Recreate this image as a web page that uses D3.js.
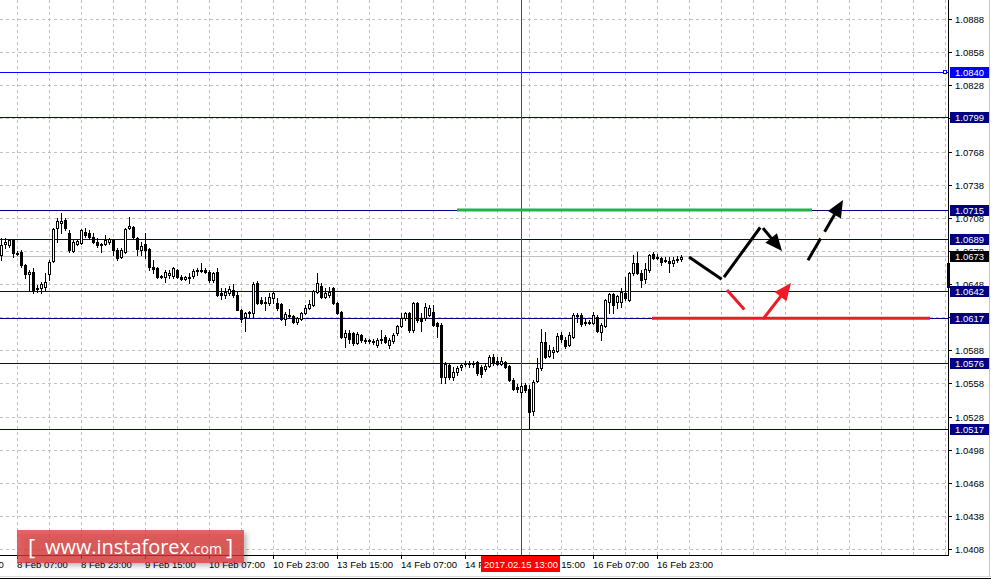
<!DOCTYPE html>
<html><head><meta charset="utf-8">
<script src="https://cdn.jsdelivr.net/npm/d3@7"></script>
<style>html,body{margin:0;padding:0;background:#fff;overflow:hidden}svg{display:block}</style>
</head><body><svg id="c" width="991" height="581"></svg>
<script>
// ---------- DATA ----------
const opens = [
1.06742,1.06841,1.06832,1.06878,1.06760,1.06769,1.06651,1.06570,1.06588,1.06443,
1.06443,1.06452,1.06570,1.06687,1.06986,1.07032,1.07059,1.06941,1.06778,1.06841,
1.06850,1.06950,1.06941,1.06905,1.06860,1.06841,1.06841,1.06860,1.06878,1.06787,
1.06724,1.06769,1.06986,1.06995,1.06896,1.06787,1.06841,1.06796,1.06633,1.06624,
1.06551,1.06542,1.06561,1.06551,1.06606,1.06542,1.06524,1.06542,1.06551,1.06597,
1.06597,1.06606,1.06588,1.06515,1.06588,1.06397,1.06379,1.06397,1.06425,1.06379,
1.06243,1.06180,1.06216,1.06216,1.06488,1.06334,1.06307,1.06307,1.06352,1.06307,
1.06298,1.06162,1.06189,1.06189,1.06135,1.06162,1.06216,1.06262,1.06289,1.06407,
1.06461,1.06361,1.06379,1.06443,1.06307,1.06225,1.05999,1.06035,1.06035,1.05944,
1.06017,1.05972,1.05963,1.05963,1.05926,1.05972,1.05999,1.05926,1.05963,1.06035,
1.06098,1.06171,1.06216,1.06062,1.06307,1.06171,1.06171,1.06198,1.06225,1.06126,
1.06108,1.05636,1.05745,1.05636,1.05682,1.05727,1.05754,1.05763,1.05754,1.05772,
1.05727,1.05709,1.05736,1.05818,1.05781,1.05754,1.05772,1.05736,1.05609,1.05546,
1.05501,1.05564,1.05528,1.05328,1.05600,1.05718,1.05954,1.05827,1.05863,1.05872,
1.06017,1.05972,1.05926,1.05999,1.06189,1.06198,1.06126,1.06135,1.06126,1.06180,
1.06044,1.06098,1.06316,1.06388,1.06316,1.06316,1.06397,1.06334,1.06579,1.06669,
1.06579,1.06524,1.06606,1.06751,1.06724,1.06715,1.06687,1.06687,1.06669,1.06696,
1.06706];
const highs = [
1.06896,1.06896,1.06887,1.06887,1.06778,1.06787,1.06660,1.06606,1.06624,1.06470,
1.06497,1.06579,1.06696,1.06986,1.07077,1.07122,1.07077,1.06968,1.06878,1.06887,
1.06977,1.06986,1.06968,1.06941,1.06896,1.06850,1.06923,1.06896,1.06887,1.06805,
1.06805,1.06986,1.07086,1.07004,1.06905,1.06860,1.06941,1.06805,1.06696,1.06633,
1.06561,1.06606,1.06606,1.06633,1.06615,1.06561,1.06551,1.06579,1.06615,1.06624,
1.06669,1.06624,1.06606,1.06588,1.06624,1.06443,1.06443,1.06461,1.06479,1.06407,
1.06253,1.06225,1.06234,1.06497,1.06506,1.06361,1.06361,1.06397,1.06407,1.06352,
1.06307,1.06225,1.06253,1.06198,1.06180,1.06225,1.06289,1.06334,1.06425,1.06579,
1.06488,1.06443,1.06452,1.06452,1.06316,1.06234,1.06062,1.06062,1.06044,1.06044,
1.06026,1.05990,1.05981,1.05981,1.05990,1.06062,1.06017,1.05990,1.06035,1.06108,
1.06216,1.06225,1.06225,1.06316,1.06316,1.06216,1.06307,1.06289,1.06289,1.06135,
1.06126,1.05772,1.05754,1.05727,1.05736,1.05754,1.05781,1.05781,1.05781,1.05781,
1.05745,1.05763,1.05836,1.05845,1.05818,1.05818,1.05781,1.05745,1.05627,1.05573,
1.05582,1.05582,1.05564,1.05609,1.05809,1.06071,1.06044,1.05926,1.05908,1.06035,
1.06044,1.05999,1.06044,1.06216,1.06216,1.06216,1.06171,1.06153,1.06225,1.06198,
1.06126,1.06343,1.06397,1.06397,1.06379,1.06443,1.06542,1.06588,1.06742,1.06769,
1.06606,1.06669,1.06751,1.06769,1.06751,1.06724,1.06724,1.06724,1.06724,1.06733,
1.06742];
const lows = [
1.06696,1.06805,1.06814,1.06724,1.06742,1.06633,1.06533,1.06416,1.06397,1.06407,
1.06397,1.06425,1.06515,1.06678,1.06860,1.06941,1.06968,1.06769,1.06769,1.06832,
1.06841,1.06905,1.06887,1.06850,1.06814,1.06769,1.06832,1.06841,1.06742,1.06696,
1.06715,1.06760,1.06977,1.06896,1.06742,1.06742,1.06715,1.06606,1.06579,1.06533,
1.06533,1.06497,1.06533,1.06533,1.06533,1.06515,1.06515,1.06488,1.06533,1.06561,
1.06588,1.06579,1.06497,1.06497,1.06370,1.06343,1.06352,1.06379,1.06361,1.06243,
1.06135,1.06053,1.06180,1.06171,1.06298,1.06298,1.06243,1.06289,1.06307,1.06243,
1.06153,1.06108,1.06180,1.06126,1.06117,1.06153,1.06207,1.06253,1.06280,1.06397,
1.06352,1.06352,1.06361,1.06298,1.06207,1.05990,1.05908,1.05944,1.05926,1.05935,
1.05954,1.05944,1.05944,1.05935,1.05908,1.05944,1.05944,1.05899,1.05944,1.06017,
1.06089,1.06153,1.06044,1.06044,1.06135,1.06053,1.06153,1.06189,1.06098,1.05999,
1.05582,1.05582,1.05618,1.05609,1.05655,1.05700,1.05736,1.05727,1.05727,1.05655,
1.05636,1.05691,1.05727,1.05745,1.05745,1.05745,1.05718,1.05600,1.05519,1.05501,
1.05455,1.05501,1.05174,1.05292,1.05591,1.05700,1.05809,1.05818,1.05809,1.05863,
1.05954,1.05899,1.05917,1.05990,1.06135,1.06098,1.06108,1.06117,1.06117,1.06044,
1.05972,1.06089,1.06216,1.06216,1.06262,1.06271,1.06334,1.06325,1.06561,1.06570,
1.06452,1.06488,1.06588,1.06706,1.06706,1.06651,1.06678,1.06588,1.06642,1.06678,
1.06687];
const closes = [
1.06832,1.06860,1.06878,1.06760,1.06751,1.06651,1.06570,1.06588,1.06425,1.06434,
1.06479,1.06497,1.06678,1.06977,1.07050,1.07050,1.06986,1.06787,1.06860,1.06869,
1.06968,1.06923,1.06905,1.06860,1.06832,1.06832,1.06878,1.06887,1.06787,1.06715,
1.06787,1.06977,1.07004,1.06905,1.06796,1.06823,1.06787,1.06633,1.06615,1.06542,
1.06542,1.06588,1.06579,1.06624,1.06542,1.06524,1.06542,1.06533,1.06597,1.06606,
1.06606,1.06588,1.06515,1.06579,1.06379,1.06379,1.06407,1.06434,1.06379,1.06243,
1.06162,1.06216,1.06225,1.06479,1.06307,1.06307,1.06316,1.06361,1.06397,1.06262,
1.06162,1.06207,1.06198,1.06135,1.06171,1.06216,1.06262,1.06298,1.06416,1.06488,
1.06361,1.06397,1.06407,1.06307,1.06216,1.05999,1.06035,1.05981,1.05944,1.06026,
1.05972,1.05963,1.05972,1.05954,1.05972,1.05981,1.05954,1.05972,1.06017,1.06098,
1.06171,1.06216,1.06062,1.06307,1.06153,1.06144,1.06271,1.06262,1.06108,1.06098,
1.05636,1.05754,1.05636,1.05682,1.05718,1.05745,1.05763,1.05754,1.05763,1.05673,
1.05664,1.05736,1.05818,1.05763,1.05754,1.05781,1.05727,1.05609,1.05528,1.05528,
1.05555,1.05519,1.05319,1.05591,1.05718,1.05954,1.05818,1.05881,1.05881,1.06008,
1.05981,1.05917,1.06017,1.06198,1.06198,1.06117,1.06135,1.06126,1.06198,1.06053,
1.06108,1.06334,1.06388,1.06289,1.06370,1.06407,1.06352,1.06579,1.06669,1.06579,
1.06515,1.06615,1.06742,1.06715,1.06715,1.06678,1.06696,1.06669,1.06696,1.06706,
1.06724];

const timeTickBars = [-12,4,20,36,52,68,84,100,116,132,148,164];
const timeTickLabels = ["7 Feb 15:00","8 Feb 07:00","8 Feb 23:00","9 Feb 15:00","10 Feb 07:00","10 Feb 23:00","13 Feb 15:00","14 Feb 07:00","14 Feb 23:00","15 Feb 15:00","16 Feb 07:00","16 Feb 23:00"];
const priceTicks = [1.0408,1.0438,1.0468,1.0498,1.0528,1.0558,1.0588,1.0618,1.0648,1.0678,1.0708,1.0738,1.0768,1.0798,1.0828,1.0858,1.0888];
const levelPrices = [1.0840,1.0799,1.0715,1.0689,1.0642,1.0617,1.0576,1.0517];
const levelKinds  = ["blue","navy","navy","navy","navy","navy","navy","navy"];
const bidPrice = 1.0673;
const crossBar = 130;
const crossLabel = "2017.02.15 13:00";
const edgeMarker = [1.06669, 1.06443];

// forecast drawings (bar index, price)
const greenLine = [[114,1.0715],[202.75,1.0715]];
const redLine = [[162.75,1.0617],[232.25,1.0617]];
const blackStrokes = [
  [[172,1.06724],[179.75,1.06533]],
  [[180.75,1.06542],[189.5,1.06977]],
  [[190.5,1.06986],[195.25,1.06778]],
  [[201.75,1.06696],[210.5,1.07240]]
];
const blackArrow = [false,false,true,true];
const blackDashed = [false,false,false,true];
const redStrokes = [
  [[181.5,1.06425],[185.5,1.06262]],
  [[190.5,1.06162],[197.5,1.06488]]
];
const redArrow = [false,true];

// ---------- CHART ----------
const svg = d3.select("#c");
const plotR = 948, plotB = 555;
const x = d3.scaleLinear().domain([0,170]).range([1,681]);
const y = d3.scaleLinear().domain([1.0408,1.0888]).range([549,19]);
const px = v => Math.round(x(v));
const py = v => Math.round(y(v));
const FONT = "'Liberation Sans', Arial, sans-serif";

const defs = svg.append("defs");
defs.append("clipPath").attr("id","plot").append("rect").attr("x",0).attr("y",0).attr("width",plotR).attr("height",plotB);
const flt = defs.append("filter").attr("id","sh").attr("x","-10%").attr("y","-20%").attr("width","130%").attr("height","160%");
flt.append("feDropShadow").attr("dx",3).attr("dy",3).attr("stdDeviation",2.5).attr("flood-color","#000").attr("flood-opacity",0.35);

svg.append("rect").attr("width",991).attr("height",581).attr("fill","#fff");

const g = svg.append("g").attr("clip-path","url(#plot)");

// grid
const gridBars = d3.range(-4, 240, 8);
g.selectAll(".vg").data(gridBars).join("line")
  .attr("x1",d=>px(d)+0.5).attr("x2",d=>px(d)+0.5).attr("y1",0).attr("y2",plotB)
  .attr("stroke","#c0c0c0").attr("stroke-dasharray","3,3");
g.selectAll(".hg").data(priceTicks).join("line")
  .attr("x1",0).attr("x2",plotR).attr("y1",d=>py(d)+0.5).attr("y2",d=>py(d)+0.5)
  .attr("stroke","#c0c0c0").attr("stroke-dasharray","3,3");

// bid line
g.append("line").attr("x1",0).attr("x2",plotR).attr("y1",py(bidPrice)+0.5).attr("y2",py(bidPrice)+0.5)
  .attr("stroke","#c0c0c0").attr("stroke-width",1);

// levels
const levelColor = k => k==="blue" ? "#0000ff" : "#000080";
g.selectAll(".lv").data(levelPrices).join("line")
  .attr("x1",0).attr("x2",plotR).attr("y1",d=>py(d)+0.5).attr("y2",d=>py(d)+0.5)
  .attr("stroke",(d,i)=>levelColor(levelKinds[i])).attr("stroke-width",1);

// crosshair
g.append("line").attr("x1",px(crossBar)+0.5).attr("x2",px(crossBar)+0.5).attr("y1",0).attr("y2",plotB)
  .attr("stroke","#ff0000").attr("stroke-width",1);

// candles
const bars = d3.range(opens.length).map(i=>({i,o:opens[i],h:highs[i],l:lows[i],c:closes[i]}));
const cg = g.append("g");
cg.selectAll(".wk").data(bars).join("line")
  .attr("x1",d=>px(d.i)+0.5).attr("x2",d=>px(d.i)+0.5)
  .attr("y1",d=>py(d.h)).attr("y2",d=>py(d.l)+1)
  .attr("stroke","#000").attr("stroke-width",1);
bars.forEach(d=>{
  const cx = px(d.i);
  const top = py(Math.max(d.o,d.c)), bot = py(Math.min(d.o,d.c));
  const hgt = bot - top;
  if (hgt < 1) {
    cg.append("rect").attr("x",cx-1).attr("y",top).attr("width",3).attr("height",1).attr("fill","#000");
  } else if (d.c > d.o) {
    cg.append("rect").attr("x",cx-0.5).attr("y",top+0.5).attr("width",2).attr("height",hgt)
      .attr("fill","#fff").attr("stroke","#000").attr("stroke-width",1);
  } else {
    cg.append("rect").attr("x",cx-1).attr("y",top).attr("width",3).attr("height",hgt+1).attr("fill","#000");
  }
});

// forecast drawings
const ag = svg.append("g");
function stroke(pts, color, w, arrow, dashed) {
  const x0 = x(pts[0][0]), y0 = y(pts[0][1]), x1 = x(pts[1][0]), y1 = y(pts[1][1]);
  const dx = x1-x0, dy = y1-y0, len = Math.hypot(dx,dy), ux = dx/len, uy = dy/len;
  const L = arrow ? 17 : 0, Wd = 7.5;
  const ex = x1 - ux*(L-2), ey = y1 - uy*(L-2);
  const ln = ag.append("line").attr("x1",x0).attr("y1",y0).attr("x2",ex).attr("y2",ey)
    .attr("stroke",color).attr("stroke-width",w);
  if (dashed) ln.attr("stroke-dasharray","25,8,100");
  if (arrow) {
    const bx = x1 - ux*L, by = y1 - uy*L;
    ag.append("polygon").attr("points",[[x1,y1],[bx-uy*Wd,by+ux*Wd],[bx+uy*Wd,by-ux*Wd]].map(p=>p.join(",")).join(" "))
      .attr("fill",color);
  }
}
ag.append("line").attr("x1",x(greenLine[0][0])).attr("x2",x(greenLine[1][0]))
  .attr("y1",y(greenLine[0][1])).attr("y2",y(greenLine[1][1]))
  .attr("stroke","#22b14c").attr("stroke-width",3);
ag.append("line").attr("x1",x(redLine[0][0])).attr("x2",x(redLine[1][0]))
  .attr("y1",y(redLine[0][1])).attr("y2",y(redLine[1][1]))
  .attr("stroke","#ed1c24").attr("stroke-width",3);
blackStrokes.forEach((s,i)=>stroke(s,"#000",3,blackArrow[i],blackDashed[i]));
redStrokes.forEach((s,i)=>stroke(s,"#ed1c24",3,redArrow[i],false));

// axes frame
svg.append("line").attr("x1",plotR+0.5).attr("x2",plotR+0.5).attr("y1",0).attr("y2",plotB+1).attr("stroke","#000");
svg.append("line").attr("x1",0).attr("x2",plotR+1).attr("y1",plotB+0.5).attr("y2",plotB+0.5).attr("stroke","#000");
svg.append("line").attr("x1",989.5).attr("x2",989.5).attr("y1",0).attr("y2",577).attr("stroke","#c8c8c8");
svg.append("line").attr("x1",0).attr("x2",991).attr("y1",576.5).attr("y2",576.5).attr("stroke","#d8d8d8");
svg.append("line").attr("x1",0).attr("x2",991).attr("y1",578.5).attr("y2",578.5).attr("stroke","#000");

// price axis
const pa = svg.append("g");
pa.selectAll(".tk").data(priceTicks).join("line")
  .attr("x1",plotR+1).attr("x2",plotR+4).attr("y1",d=>py(d)+0.5).attr("y2",d=>py(d)+0.5).attr("stroke","#000");
pa.selectAll(".tl").data(priceTicks).join("text")
  .attr("x",955).attr("y",d=>py(d)+3.5).text(d=>d3.format(".4f")(d))
  .attr("font-family",FONT).attr("font-size","9.5px").attr("fill","#000");

// edge marker
svg.append("rect").attr("x",plotR-1).attr("y",py(edgeMarker[0])).attr("width",3)
  .attr("height",py(edgeMarker[1])-py(edgeMarker[0])).attr("fill","#000");

// level labels
const labG = svg.append("g");
levelPrices.forEach((v,i)=>{
  const yy = py(v);
  const col = levelKinds[i]==="blue" ? "#0000ff" : "#000080";
  labG.append("rect").attr("x",950).attr("y",yy-5).attr("width",39).attr("height",11).attr("fill",col);
  labG.append("text").attr("x",955).attr("y",yy+4).text(d3.format(".4f")(v))
    .attr("font-family",FONT).attr("font-size","9.5px").attr("fill","#fff");
  if (levelKinds[i]==="blue") {
    labG.append("rect").attr("x",943.5).attr("y",yy-1.5).attr("width",3).attr("height",3)
      .attr("fill","#fff").attr("stroke",col);
  }
});
{
  const yy = py(bidPrice);
  labG.append("rect").attr("x",950).attr("y",yy-5).attr("width",39).attr("height",11).attr("fill","#000");
  labG.append("text").attr("x",955).attr("y",yy+4).text(d3.format(".4f")(bidPrice))
    .attr("font-family",FONT).attr("font-size","9.5px").attr("fill","#fff");
}

// time axis
const ta = svg.append("g");
ta.selectAll(".tt").data(timeTickBars).join("line")
  .attr("x1",d=>px(d)+0.5).attr("x2",d=>px(d)+0.5).attr("y1",plotB+1).attr("y2",plotB+4).attr("stroke","#000");
ta.selectAll(".tx").data(timeTickBars).join("text")
  .attr("x",d=>px(d)).attr("y",568).text((d,i)=>timeTickLabels[i])
  .attr("font-family",FONT).attr("font-size","9.5px").attr("fill","#000");

// crosshair label
svg.append("rect").attr("x",481).attr("y",556).attr("width",79).attr("height",16).attr("fill","#ff0000");
svg.append("text").attr("x",484).attr("y",568).text(crossLabel)
  .attr("font-family",FONT).attr("font-size","9.5px").attr("fill","#fff");

// watermark logo
const lg = svg.append("g");
lg.append("rect").attr("x",17).attr("y",530).attr("width",227).attr("height",33)
  .attr("fill","rgba(216,52,52,0.75)").attr("filter","url(#sh)");
lg.append("text").attr("x",28).attr("y",555).text("[").attr("font-family","'Open Sans', sans-serif")
  .attr("font-size","22px").attr("fill","#fff");
lg.append("text").attr("x",45).attr("y",554).text("www.instaforex").attr("font-family","'Open Sans', sans-serif")
  .attr("font-size","20px").attr("fill","#fff").attr("textLength",145).attr("lengthAdjust","spacingAndGlyphs");
lg.append("text").attr("x",190).attr("y",554).text(".com").attr("font-family","'Open Sans', sans-serif")
  .attr("font-size","15px").attr("fill","#fff").attr("textLength",32).attr("lengthAdjust","spacingAndGlyphs");
lg.append("text").attr("x",226).attr("y",555).text("]").attr("font-family","'Open Sans', sans-serif")
  .attr("font-size","22px").attr("fill","#fff");
</script></body></html>
